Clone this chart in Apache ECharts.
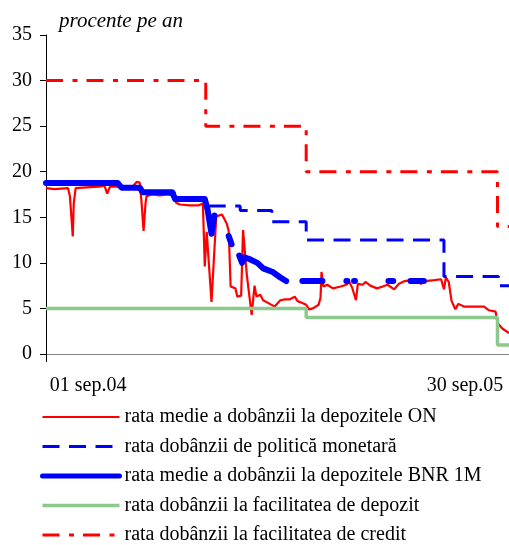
<!DOCTYPE html>
<html>
<head>
<meta charset="utf-8">
<script src="https://cdn.jsdelivr.net/npm/echarts@6/dist/echarts.min.js"></script>
<style>
  html, body { margin: 0; padding: 0; background: #fff; }
  #chart { width: 509px; height: 545px; }
</style>
</head>
<body>
<div id="chart"></div>
<script>
// Overnight deposit rate (daily average), % p.a.
const onDates = [
  '2004-07-19','2004-07-28','2004-08-11','2004-08-13','2004-08-16','2004-08-17','2004-08-19',
  '2004-09-03','2004-09-13','2004-09-18','2004-09-21','2004-09-24','2004-10-02','2004-10-06',
  '2004-10-17','2004-10-22','2004-10-25','2004-10-27','2004-10-29','2004-10-31','2004-11-01',
  '2004-11-07','2004-11-15','2004-11-23','2004-11-29','2004-12-02','2004-12-06','2004-12-16',
  '2004-12-25','2004-12-30','2005-01-01','2005-01-03','2005-01-08','2005-01-13','2005-01-19',
  '2005-01-24','2005-01-26','2005-01-28','2005-02-02','2005-02-04','2005-02-08','2005-02-10',
  '2005-02-14','2005-02-19','2005-02-22','2005-02-24','2005-02-28','2005-03-03','2005-03-10',
  '2005-03-15','2005-03-21','2005-03-26','2005-03-31','2005-04-05','2005-04-08','2005-04-13',
  '2005-04-17','2005-04-20','2005-04-24','2005-04-30','2005-05-02','2005-05-03','2005-05-05',
  '2005-05-09','2005-05-15','2005-05-23','2005-05-29','2005-06-01','2005-06-04','2005-06-08',
  '2005-06-10','2005-06-15','2005-06-18','2005-06-23','2005-06-30','2005-07-06','2005-07-11',
  '2005-07-18','2005-07-23','2005-07-29','2005-08-05','2005-08-11','2005-08-15','2005-08-19',
  '2005-08-29','2005-09-05','2005-09-08','2005-09-10','2005-09-13','2005-09-16','2005-09-20',
  '2005-09-23','2005-09-29','2005-10-09','2005-10-20','2005-10-25','2005-11-01','2005-11-03',
  '2005-11-08','2005-11-15'
];
const onValues = [
  18.2, 18.1, 18.2, 17.3, 12.9, 16.5, 18.2,
  18.3, 18.35, 18.5, 17.6, 18.4, 18.35, 18.2,
  18.3, 18.9, 18.8, 16.5, 13.5, 16.5, 17.3,
  17.5, 17.4, 17.5, 17.4, 16.6, 16.4, 16.3,
  16.3, 16.5, 9.6, 13.4, 5.7, 15.1, 15.3,
  14.3, 13.5, 7.4, 7.2, 6.3, 6.4, 13.6,
  8.6, 4.3, 7.5, 6.3, 6.5, 5.9, 5.5,
  5.2, 5.9, 6.0, 6.0, 6.3, 5.8, 5.6,
  5.4, 4.9, 5.0, 5.4, 6.2, 9.0, 7.4,
  7.6, 7.2, 7.4, 7.6, 7.9, 7.3, 5.9,
  7.7, 7.6, 7.9, 7.5, 7.2, 7.4, 7.6,
  7.1, 7.7, 8.0, 8.1, 8.0, 7.7, 8.0,
  8.1, 8.2, 7.1, 8.4, 7.9, 5.8, 4.9,
  5.5, 5.2, 5.2, 5.2, 4.8, 4.65, 3.4,
  2.8, 2.3
];

// Monetary policy rate (changes only)
const policyDates  = ['2004-07-19','2004-10-04','2004-10-27','2004-11-30','2005-01-06','2005-02-07',
                      '2005-03-12','2005-04-17','2005-09-08','2005-11-04','2005-11-15'];
const policyValues = [18.75, 18.25, 17.75, 17.0, 16.25, 15.75, 14.5, 12.5, 8.5, 7.5, 7.5];

// Average rate on 1M NBR deposits (null = no operation)
const bnrDates = [
  '2004-07-19','2004-10-02','2004-10-06','2004-10-25','2004-10-28','2004-11-28','2004-12-01',
  '2005-01-01','2005-01-04','2005-01-08','2005-01-11','2005-01-15',
  '2005-01-26','2005-01-29','2005-02-02',
  '2005-02-06','2005-02-09','2005-02-11','2005-02-17','2005-02-25','2005-03-03','2005-03-13',
  '2005-03-21','2005-03-27','2005-04-01',
  '2005-04-13','2005-05-04','2005-05-15',
  '2005-05-29','2005-05-30','2005-06-03',
  '2005-06-06','2005-06-07','2005-06-20',
  '2005-07-12','2005-07-17','2005-07-25',
  '2005-08-04','2005-08-18'
];
const bnrValues = [
  18.75, 18.75, 18.25, 18.25, 17.75, 17.75, 17.0,
  17.0, 15.8, 13.2, 15.2, null,
  12.95, 12.05, null,
  10.8, 10.0, 10.6, 10.4, 10.0, 9.4, 9.0,
  8.4, 8.0, null,
  8.0, 8.0, null,
  8.0, 8.0, null,
  8.0, 8.0, null,
  8.0, 8.0, null,
  8.0, 8.0
];

// Standing facilities
const depositDates  = ['2004-07-19','2005-04-17','2005-11-03','2005-11-15'];
const depositValues = [5, 4, 1, 1];
const creditDates   = ['2004-07-19','2005-01-02','2005-04-17','2005-11-03','2005-11-15'];
const creditValues  = [30, 25, 20, 14, 14];

// Axis settings
const axisStart = '2004-07-19';
const axisEnd = '2005-11-15';
const dateLabels = ['2004-09-01', '2005-09-30'];
const yTicks = { min: 0, max: 35, step: 5 };
const monthNames = ['ian','feb','mar','apr','mai','iun','iul','aug','sep','oct','nov','dec'];

const seriesNames = [
  'rata medie a dobânzii la depozitele ON',
  'rata dobânzii de politică monetară',
  'rata medie a dobânzii la depozitele BNR 1M',
  'rata dobânzii la facilitatea de depozit',
  'rata dobânzii la facilitatea de credit'
];

function toTime(s) {
  const p = s.split('-').map(Number);
  return Date.UTC(p[0], p[1] - 1, p[2]);
}
function pairs(dates, values) {
  return dates.map((d, i) => [toTime(d), values[i] === null ? '-' : values[i]]);
}
function fmtDate(t) {
  const d = new Date(t);
  const dd = String(d.getUTCDate()).padStart(2, '0');
  const yy = String(d.getUTCFullYear() % 100).padStart(2, '0');
  return dd + ' ' + monthNames[d.getUTCMonth()] + '.' + yy;
}

const serif = '"Liberation Serif", "Times New Roman", serif';
const RED = '#ff0000', BLUE = '#0000ff', GREEN = '#8cc98c';

// per-series line styles, shared by the plot and the legend keys
const styles = [
  { color: RED,   width: 2.2 },
  { color: BLUE,  width: 3, type: [17, 9.5] },
  { color: BLUE,  width: 6, cap: 'round', join: 'round' },
  { color: GREEN, width: 3.5 },
  { color: RED,   width: 3, type: [17, 9.5, 5, 9] }
];
const legendWidths = [2, 3, 5, 3.5, 3];

const chart = echarts.init(document.getElementById('chart'), null, { renderer: 'canvas' });

chart.setOption({
  animation: false,
  backgroundColor: '#fff',
  title: {
    text: 'procente pe an',
    left: 59,
    top: 11,
    padding: 0,
    textStyle: { fontFamily: serif, fontStyle: 'italic', fontWeight: 'normal', fontSize: 21, color: '#000' }
  },
  grid: { left: 46, right: 0, top: 35, bottom: 191, containLabel: false },
  legend: {
    orient: 'vertical',
    left: 40,
    top: 407,
    height: 200,
    padding: 0,
    itemWidth: 77,
    itemHeight: 14,
    itemGap: 9.5,
    itemStyle: { opacity: 0 },
    data: seriesNames.map((name, i) => ({
      name: name,
      lineStyle: { width: legendWidths[i] }
    })),
    textStyle: { fontFamily: serif, fontSize: 20, color: '#000', lineHeight: 20 }
  },
  xAxis: {
    type: 'value',
    min: toTime(axisStart),
    max: toTime(axisEnd),
    splitLine: { show: false },
    axisLine: { show: true, lineStyle: { color: '#808080', width: 1 } },
    axisTick: {
      show: true,
      customValues: [toTime(axisStart)],
      length: 8,
      lineStyle: { color: '#000' }
    },
    axisLabel: {
      customValues: dateLabels.map(toTime),
      formatter: fmtDate,
      fontFamily: serif,
      fontSize: 20,
      color: '#000',
      margin: 22
    }
  },
  yAxis: {
    type: 'value',
    min: yTicks.min,
    max: yTicks.max,
    interval: yTicks.step,
    splitLine: { show: false },
    axisLine: { show: true, lineStyle: { color: '#000', width: 1 } },
    axisTick: { show: true, length: 6, lineStyle: { color: '#000' } },
    axisLabel: { fontFamily: serif, fontSize: 20, color: '#000', margin: 14 }
  },
  series: [
    { name: seriesNames[0], type: 'line', symbol: 'none',
      data: pairs(onDates, onValues) },
    { name: seriesNames[1], type: 'line', symbol: 'none', step: 'end',
      data: pairs(policyDates, policyValues) },
    { name: seriesNames[2], type: 'line', symbol: 'none', connectNulls: false,
      data: pairs(bnrDates, bnrValues) },
    { name: seriesNames[3], type: 'line', symbol: 'none', step: 'end',
      data: pairs(depositDates, depositValues) },
    { name: seriesNames[4], type: 'line', symbol: 'none', step: 'end',
      data: pairs(creditDates, creditValues) }
  ].map((s, i) => Object.assign(s, {
    lineStyle: styles[i],
    itemStyle: { color: styles[i].color }
  }))
});
</script>
</body>
</html>
